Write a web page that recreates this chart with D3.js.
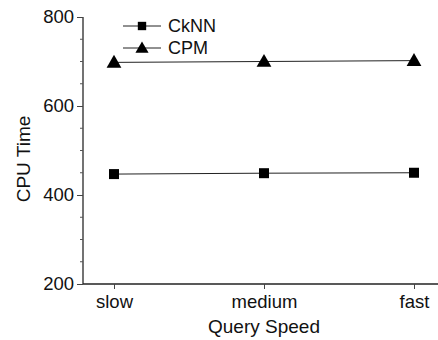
<!DOCTYPE html>
<html>
<head>
<meta charset="utf-8">
<script src="https://cdn.jsdelivr.net/npm/d3@7"></script>
<style>
  body { margin: 0; background: #fff; }
  svg { display: block; font-family: 'Liberation Sans', Arial, sans-serif; }
</style>
</head>
<body>
<script>
const width = 438;
const height = 340;

const speeds = ['slow', 'medium', 'fast'];
const cknn = [447, 449, 450];
const cpm = [698, 700, 702];
const yTicks = [200, 400, 600, 800];
const yMinor = [250, 300, 350, 450, 500, 550, 650, 700, 750];
const seriesNames = ['CkNN', 'CPM'];

const svg = d3
  .select('body')
  .append('svg')
  .attr('width', width)
  .attr('height', height);

const x = d3.scalePoint().domain(speeds).range([114, 414]);
const y = d3.scaleLinear().domain([200, 800]).range([284, 17]);
const x0 = 83;

// y axis
const yAxis = svg.append('g').attr('transform', `translate(${x0},0)`)
  .call(d3.axisLeft(y).tickValues(yTicks).tickSize(6).tickPadding(3).tickFormat(d3.format('d')));
yAxis.select('.domain').attr('stroke', '#444').attr('stroke-width', 1.5).attr('d', `M0,${y(800)}V${y(200)}`);
yAxis.selectAll('.tick line').attr('stroke', '#444');
yAxis.selectAll('.tick text').attr('font-size', 18.5).attr('fill', '#111');

svg.append('g').selectAll('line')
  .data(yMinor)
  .join('line')
  .attr('x1', x0 - 3).attr('x2', x0)
  .attr('y1', (d) => y(d)).attr('y2', (d) => y(d))
  .attr('stroke', '#555');

// x axis
const xAxis = svg.append('g').attr('transform', `translate(0,${y(200)})`)
  .call(d3.axisBottom(x).tickSize(5).tickPadding(6));
xAxis.select('.domain').attr('stroke', '#222').attr('stroke-width', 1.5).attr('d', `M${x0},0H${width}`);
xAxis.selectAll('.tick line').attr('stroke', '#444');
xAxis.selectAll('.tick text').attr('font-size', 18.5).attr('fill', '#111');

// axis titles
svg.append('text')
  .attr('transform', 'translate(30,159) rotate(-90)')
  .attr('text-anchor', 'middle')
  .attr('font-size', 19)
  .attr('fill', '#111')
  .text('CPU Time');

svg.append('text')
  .attr('x', x('medium'))
  .attr('y', 333)
  .attr('text-anchor', 'middle')
  .attr('font-size', 19)
  .attr('fill', '#111')
  .text('Query Speed');

// lines
const line = d3.line().x((d, i) => x(speeds[i])).y((d) => y(d));
[cknn, cpm].forEach((vals) => {
  svg.append('path')
    .datum(vals)
    .attr('d', line)
    .attr('fill', 'none')
    .attr('stroke', '#222')
    .attr('stroke-width', 1);
});

const sq = d3.symbol().type(d3.symbolSquare).size(100);
const tri = d3.symbol().type(d3.symbolTriangle).size(95);

svg.append('g').selectAll('path')
  .data(cknn)
  .join('path')
  .attr('d', sq)
  .attr('transform', (d, i) => `translate(${x(speeds[i])},${y(d)})`)
  .attr('fill', '#000');

svg.append('g').selectAll('path')
  .data(cpm)
  .join('path')
  .attr('d', tri)
  .attr('transform', (d, i) => `translate(${x(speeds[i])},${y(d) + 1})`)
  .attr('fill', '#000');

// legend
const legend = svg.append('g').attr('transform', 'translate(123,26)');
seriesNames.forEach((name, i) => {
  const g = legend.append('g').attr('transform', `translate(0,${i * 22})`);
  g.append('line').attr('x1', 0).attr('x2', 38).attr('y1', 0).attr('y2', 0)
    .attr('stroke', '#222').attr('stroke-width', 1);
  g.append('path').attr('d', i === 0 ? d3.symbol().type(d3.symbolSquare).size(70)() : d3.symbol().type(d3.symbolTriangle).size(75)())
    .attr('transform', `translate(19,${i === 0 ? 0 : 1})`)
    .attr('fill', '#000');
  g.append('text').attr('x', 45).attr('y', 6)
    .attr('font-size', 18).attr('fill', '#111').text(name);
});
</script>
</body>
</html>
